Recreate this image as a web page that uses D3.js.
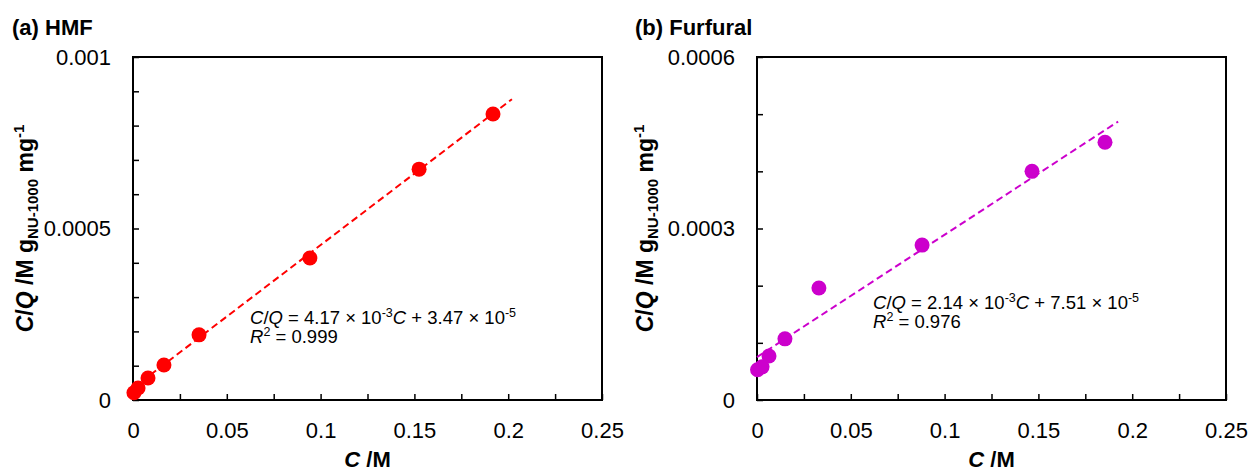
<!DOCTYPE html>
<html>
<head>
<meta charset="utf-8">
<script src="https://cdn.jsdelivr.net/npm/d3@7"></script>
<style>
  body { margin: 0; background: #fff; }
  svg { font-family: "Liberation Sans", Arial, sans-serif; }
  .axis path { display: none; }
  .axis line { stroke: #000; stroke-width: 1.5; }
  .axis text { font-size: 22px; fill: #000; }
</style>
</head>
<body>
<div id="chart"></div>
<script>
// Langmuir-style linear fits: C/Q vs C
const hmfC = [0.0005, 0.0027, 0.008, 0.0165, 0.0352, 0.0943, 0.1525, 0.1919];
const hmfCQ = [0.000021, 0.000035, 0.000064, 0.000102, 0.00019, 0.000414, 0.000673, 0.000834];
const hmfFit = { slope: 4.17e-3, intercept: 3.47e-5, xEnd: 0.202 };

const furC = [0.0003, 0.0027, 0.0064, 0.0149, 0.033, 0.088, 0.1466, 0.1855];
const furCQ = [0.000053, 0.000058, 0.000077, 0.000107, 0.000196, 0.000271, 0.0004, 0.000451];
const furFit = { slope: 2.14e-3, intercept: 7.51e-5, xEnd: 0.1925 };

const xTicks = [0, 0.025, 0.05, 0.075, 0.1, 0.125, 0.15, 0.175, 0.2, 0.225, 0.25];
const xLabels = [0, 0.05, 0.1, 0.15, 0.2, 0.25];
const hmfYTicks = d3.range(0, 11).map((i) => i * 0.0001);
const hmfYLabels = [0, 0.0005, 0.001];
const furYTicks = d3.range(0, 7).map((i) => i * 0.0001);
const furYLabels = [0, 0.0003, 0.0006];

const width = 1252, height = 473;
const svg = d3.select("#chart").append("svg").attr("width", width).attr("height", height);

const panels = [
  {
    title: "(a) HMF", titleX: 12, left: 133, color: "#ff0000",
    xs: hmfC, ys: hmfCQ, fit: hmfFit, yMax: 0.001, yTicks: hmfYTicks, yLabels: hmfYLabels,
    yFmt: (d) => (d === 0 ? "0" : Math.abs(d - 0.001) < 1e-9 ? "0.001" : "0.0005"),
    eqX: 250, eqY: 324, slope: "4.17", icpt: "3.47", r2: "0.999", yTitleX: 33
  },
  {
    title: "(b) Furfural", titleX: 635, left: 757, color: "#cc00cc",
    xs: furC, ys: furCQ, fit: furFit, yMax: 0.0006, yTicks: furYTicks, yLabels: furYLabels,
    yFmt: (d) => (d === 0 ? "0" : d3.format(".4f")(d)),
    eqX: 873, eqY: 309, slope: "2.14", icpt: "7.51", r2: "0.976", yTitleX: 653
  }
];

const plotTop = 57, innerW = 469, innerH = 343;

panels.forEach((p) => {
  const g = svg.append("g").attr("transform", `translate(${p.left},${plotTop})`);
  const x = d3.scaleLinear().domain([0, 0.25]).range([0, innerW]);
  const y = d3.scaleLinear().domain([0, p.yMax]).range([innerH, 0]);

  const isLabel = (list, d) => list.some((v) => Math.abs(v - d) < 1e-9);

  const xAxis = d3.axisBottom(x).tickValues(xTicks).tickSizeInner(-6).tickSizeOuter(0).tickPadding(22)
    .tickFormat((d) => (isLabel(xLabels, d) ? String(+d.toFixed(3)) : ""));
  g.append("g").attr("class", "axis").attr("transform", `translate(0,${innerH})`).call(xAxis);

  const yAxis = d3.axisLeft(y).tickValues(p.yTicks).tickSizeInner(-6).tickSizeOuter(0).tickPadding(22)
    .tickFormat((d) => (isLabel(p.yLabels, d) ? p.yFmt(d) : ""));
  g.append("g").attr("class", "axis").call(yAxis);

  g.append("rect").attr("width", innerW).attr("height", innerH)
    .attr("fill", "none").attr("stroke", "#000").attr("stroke-width", 2);

  // fitted line
  g.append("line")
    .attr("x1", x(0)).attr("y1", y(p.fit.intercept))
    .attr("x2", x(p.fit.xEnd)).attr("y2", y(p.fit.slope * p.fit.xEnd + p.fit.intercept))
    .attr("stroke", p.color).attr("stroke-width", 2).attr("stroke-dasharray", "7,4");

  g.selectAll("circle").data(p.xs.map((c, i) => [c, p.ys[i]])).join("circle")
    .attr("cx", (d) => x(d[0])).attr("cy", (d) => y(d[1])).attr("r", 7.5).attr("fill", p.color);

  // panel title
  svg.append("text").attr("x", p.titleX).attr("y", 35).attr("font-size", 22)
    .attr("font-weight", "bold").text(p.title);

  // x title
  const xt = svg.append("text").attr("x", p.left + innerW / 2).attr("y", 467)
    .attr("text-anchor", "middle").attr("font-size", 22).attr("font-weight", "bold");
  xt.append("tspan").attr("font-style", "italic").text("C");
  xt.append("tspan").text(" /M");

  // y title
  const yt = svg.append("text")
    .attr("transform", `translate(${p.yTitleX},${plotTop + innerH / 2}) rotate(-90)`)
    .attr("text-anchor", "middle").attr("font-size", 23).attr("font-weight", "bold");
  yt.append("tspan").attr("font-style", "italic").text("C");
  yt.append("tspan").text("/");
  yt.append("tspan").attr("font-style", "italic").text("Q");
  yt.append("tspan").text(" /M g");
  yt.append("tspan").attr("font-size", 15).attr("dy", 5).text("NU-1000");
  yt.append("tspan").attr("dy", -5).text(" mg");
  yt.append("tspan").attr("font-size", 15).attr("dy", -9).text("-1");

  // equation
  const eq = svg.append("text").attr("x", p.eqX).attr("y", p.eqY).attr("font-size", 18.5);
  eq.append("tspan").attr("font-style", "italic").text("C");
  eq.append("tspan").text("/");
  eq.append("tspan").attr("font-style", "italic").text("Q");
  eq.append("tspan").text(` = ${p.slope} \u00d7 10`);
  eq.append("tspan").attr("font-size", 12.5).attr("dy", -7).text("-3");
  eq.append("tspan").attr("font-style", "italic").attr("dy", 7).text("C");
  eq.append("tspan").text(` + ${p.icpt} \u00d7 10`);
  eq.append("tspan").attr("font-size", 12.5).attr("dy", -7).text("-5");

  const r2 = svg.append("text").attr("x", p.eqX).attr("y", p.eqY + 19).attr("font-size", 18.5);
  r2.append("tspan").attr("font-style", "italic").text("R");
  r2.append("tspan").attr("font-size", 12.5).attr("dy", -7).text("2");
  r2.append("tspan").attr("dy", 7).text(` = ${p.r2}`);
});
</script>
</body>
</html>
